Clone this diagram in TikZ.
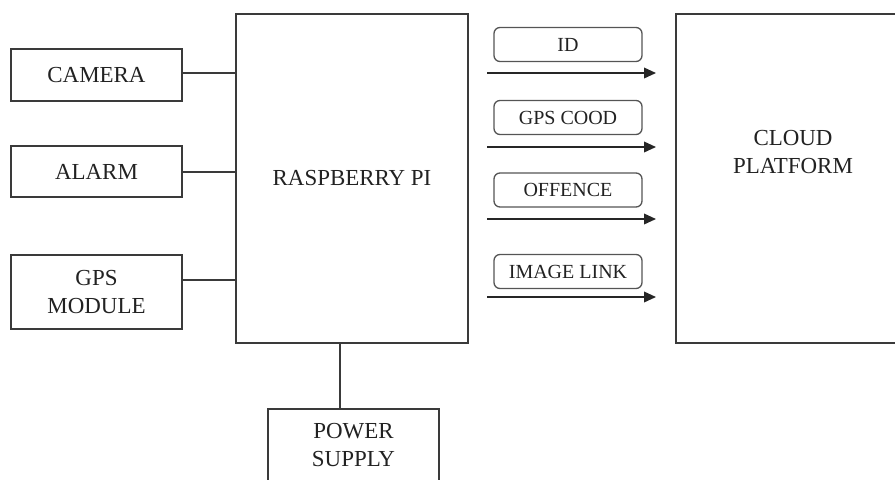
\documentclass[tikz,border=0pt]{standalone}
\usepackage{fontspec}
\setmainfont{Liberation Serif}
\usetikzlibrary{arrows.meta}
\newdimen\px \px=0.75pt
\definecolor{linegray}{HTML}{3A3A3A}
\definecolor{boxgray}{HTML}{555555}
\definecolor{txt}{HTML}{222222}
\tikzset{
  blockbox/.style={draw=linegray, line width=1.1pt, fill=white, inner sep=0pt,
    align=center, text=txt, font=\fontsize{17.2}{21}\selectfont},
  tagbox/.style={draw=boxgray, line width=1pt, rounded corners=4.5pt, inner sep=0pt,
    minimum width=148\px, minimum height=34\px, text=txt,
    font=\fontsize{15}{18}\selectfont},
  wire/.style={draw=linegray, line width=1.1pt},
  flow/.style={draw=black!85, line width=1.1pt, -{Triangle[length=9pt,width=8pt]}},
}
\begin{document}
\begin{tikzpicture}[x=0.75pt, y=-0.75pt]
\useasboundingbox (0,0) rectangle (895,479);
\clip (0,0) rectangle (895,479);
% blocks
\node[blockbox, minimum width=171\px, minimum height=52\px] (cam) at (96.5,75) {CAMERA};
\node[blockbox, minimum width=171\px, minimum height=51\px] (alarm) at (96.5,171.5) {ALARM};
\node[blockbox, minimum width=171\px, minimum height=74\px] (gps) at (96.5,292) {GPS\\MODULE};
\node[blockbox, minimum width=232\px, minimum height=329\px] (rpi) at (352,178.5) {RASPBERRY PI};
\node[blockbox, minimum width=171\px, minimum height=73\px] (power) at (353.5,445.5) {POWER\\SUPPLY};
\node[blockbox, minimum width=234\px, minimum height=329\px] (cloud) at (793,178.5) {};
\node[align=center, text=txt, font=\fontsize{17.2}{21}\selectfont] (cloudtxt) at (793,152) {CLOUD\\PLATFORM};
% left connectors
\coordinate (camy) at (0,73);
\coordinate (alarmy) at (0,172);
\coordinate (gpsy) at (0,280);
\coordinate (pwrx) at (340,0);
\draw[wire] (cam.east |- camy) -- (rpi.west |- camy);
\draw[wire] (alarm.east |- alarmy) -- (rpi.west |- alarmy);
\draw[wire] (gps.east |- gpsy) -- (rpi.west |- gpsy);
\draw[wire] (rpi.south -| pwrx) -- (power.north -| pwrx);
% tags
\node[tagbox] (tid) at (568,44.5) {ID};
\node[tagbox] (tgps) at (568,117.5) {GPS COOD};
\node[tagbox] (toff) at (568,190) {OFFENCE};
\node[tagbox] (timg) at (568,271.5) {IMAGE LINK};
% arrows
\coordinate (s1) at (487,73);  \coordinate (e1) at (656,73);
\coordinate (s2) at (487,147); \coordinate (e2) at (656,147);
\coordinate (s3) at (487,219); \coordinate (e3) at (656,219);
\coordinate (s4) at (487,297); \coordinate (e4) at (656,297);
\draw[flow] (s1) -- (e1);
\draw[flow] (s2) -- (e2);
\draw[flow] (s3) -- (e3);
\draw[flow] (s4) -- (e4);
\end{tikzpicture}
\end{document}
